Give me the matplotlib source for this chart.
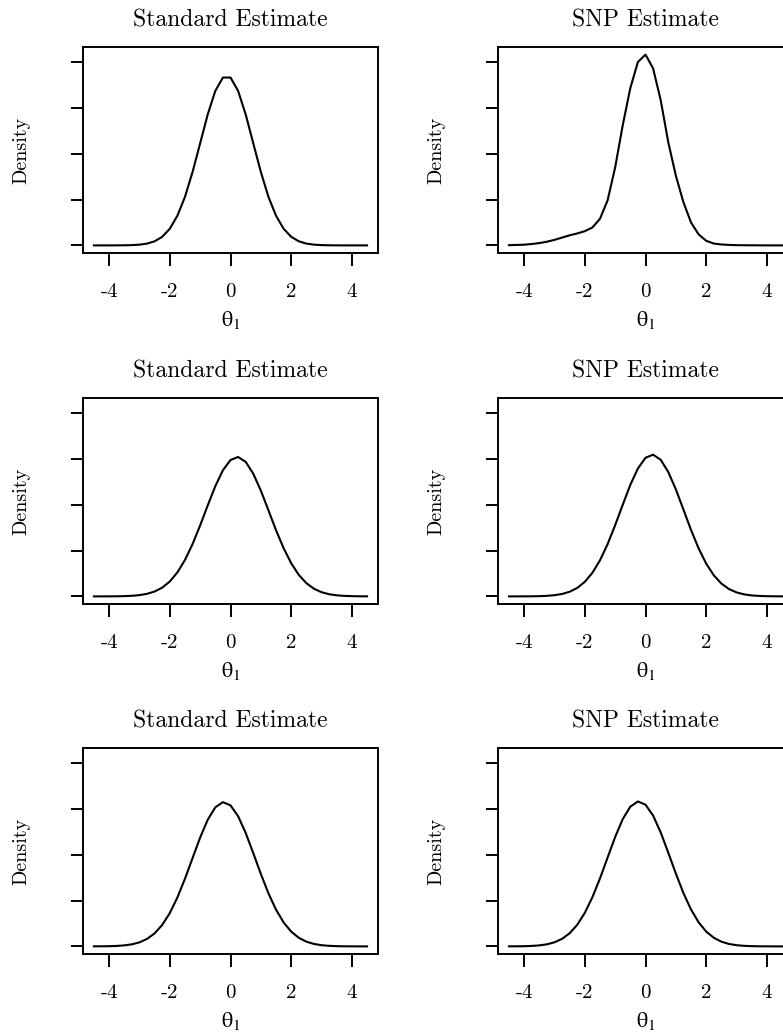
import matplotlib
matplotlib.use("Agg")
import matplotlib.pyplot as plt

plt.rcParams['font.family'] = 'serif'
plt.rcParams['font.serif'] = ['cmr10']
plt.rcParams['mathtext.fontset'] = 'cm'
plt.rcParams['axes.unicode_minus'] = False

# evaluation grid of the density estimates
theta = [-4.5, -4.25, -4.0, -3.75, -3.5, -3.25, -3.0, -2.75, -2.5, -2.25,
         -2.0, -1.75, -1.5, -1.25, -1.0, -0.75, -0.5, -0.25, 0.0, 0.25,
         0.5, 0.75, 1.0, 1.25, 1.5, 1.75, 2.0, 2.25, 2.5, 2.75,
         3.0, 3.25, 3.5, 3.75, 4.0, 4.25, 4.5]

# row 1
std_1 = [0.0, 0.0, 0.0, 0.0001, 0.0002, 0.0006, 0.0016, 0.0039, 0.0089, 0.0187,
         0.0363, 0.0647, 0.1058, 0.1601, 0.2226, 0.2857, 0.3370, 0.3660, 0.3660, 0.3370,
         0.2857, 0.2226, 0.1601, 0.1058, 0.0647, 0.0363, 0.0187, 0.0089, 0.0039, 0.0016,
         0.0006, 0.0002, 0.0001, 0.0, 0.0, 0.0, 0.0]
snp_1 = [0.0005, 0.001, 0.0015, 0.003, 0.005, 0.008, 0.012, 0.017, 0.022, 0.026,
         0.031, 0.039, 0.058, 0.098, 0.170, 0.262, 0.343, 0.400, 0.416, 0.386,
         0.317, 0.225, 0.152, 0.094, 0.050, 0.024, 0.010, 0.004, 0.002, 0.001,
         0.0005, 0.0003, 0.0002, 0.0001, 0.0, 0.0, 0.0]

# row 2
std_2 = [0.0, 0.0, 0.0001, 0.0002, 0.0006, 0.0013, 0.0028, 0.0056, 0.0106, 0.0191,
         0.0325, 0.0523, 0.0795, 0.1141, 0.1548, 0.1984, 0.2404, 0.2750, 0.2974, 0.3040,
         0.2934, 0.2676, 0.2306, 0.1878, 0.1443, 0.1052, 0.0723, 0.0469, 0.0288, 0.0167,
         0.0091, 0.0047, 0.0023, 0.0011, 0.0005, 0.0002, 0.0001]
snp_2 = [0.0, 0.0, 0.0001, 0.0002, 0.0005, 0.0012, 0.0026, 0.0052, 0.0101, 0.0184,
         0.0317, 0.0514, 0.0787, 0.1137, 0.1552, 0.1998, 0.2432, 0.2790, 0.3022, 0.3090,
         0.2980, 0.2713, 0.2334, 0.1893, 0.1449, 0.1047, 0.0714, 0.0460, 0.0279, 0.0160,
         0.0087, 0.0044, 0.0021, 0.0010, 0.0004, 0.0002, 0.0001]

# row 3
std_3 = [0.0001, 0.0002, 0.0004, 0.0010, 0.0022, 0.0045, 0.0088, 0.0163, 0.0284, 0.0468,
         0.0727, 0.1066, 0.1475, 0.1926, 0.2374, 0.2762, 0.3033, 0.3145, 0.3075, 0.2840,
         0.2475, 0.2034, 0.1580, 0.1157, 0.0801, 0.0523, 0.0322, 0.0187, 0.0103, 0.0053,
         0.0026, 0.0012, 0.0005, 0.0002, 0.0001, 0.0, 0.0]
snp_3 = [0.0001, 0.0002, 0.0004, 0.0010, 0.0022, 0.0045, 0.0089, 0.0164, 0.0286, 0.0470,
         0.0731, 0.1071, 0.1482, 0.1935, 0.2385, 0.2775, 0.3047, 0.3160, 0.3090, 0.2853,
         0.2487, 0.2044, 0.1588, 0.1162, 0.0805, 0.0525, 0.0323, 0.0188, 0.0103, 0.0053,
         0.0026, 0.0012, 0.0005, 0.0002, 0.0001, 0.0, 0.0]

titles = ['Standard Estimate', 'SNP Estimate']
xticks = [-4, -2, 0, 2, 4]
xtick_labels = ['-4', '-2', '0', '2', '4']
yticks = [0.0, 0.1, 0.2, 0.3, 0.4]

rows = [(std_1, snp_1), (std_2, snp_2), (std_3, snp_3)]

W, H = 783, 1032
fig = plt.figure(figsize=(W / 100, H / 100), dpi=100)

col_left = [83, 498]     # px, right column runs past the figure edge
row_top = [47, 398, 748]
box_w, box_h = 295, 206

for r, pair in enumerate(rows):
    for c, dens in enumerate(pair):
        ax = fig.add_axes([col_left[c] / W, 1 - (row_top[r] + box_h) / H,
                           box_w / W, box_h / H])
        ax.plot(theta, dens, color='black', lw=1.5)
        ax.set_xlim(-4.86, 4.86)
        ax.set_ylim(-0.0166, 0.4326)
        ax.set_xticks(xticks)
        ax.set_xticklabels(xtick_labels)
        ax.set_yticks(yticks)
        ax.set_yticklabels([])
        ax.tick_params(direction='out', length=9, width=1.4, labelsize=15, pad=13)
        for s in ax.spines.values():
            s.set_linewidth(1.4)
        ax.set_title(titles[c], fontsize=17, pad=15)
        ax.set_xlabel(r'$\mathrm{\theta}_1$', fontsize=16, math_fontfamily='stix')
        ax.xaxis.set_label_coords(0.5, -0.27)
        ax.xaxis.label.set_va('top')
        ax.set_ylabel('Density', fontsize=14.5)
        ax.yaxis.set_label_coords(-0.18, 0.5)

plt.savefig('out.png', dpi=100)
